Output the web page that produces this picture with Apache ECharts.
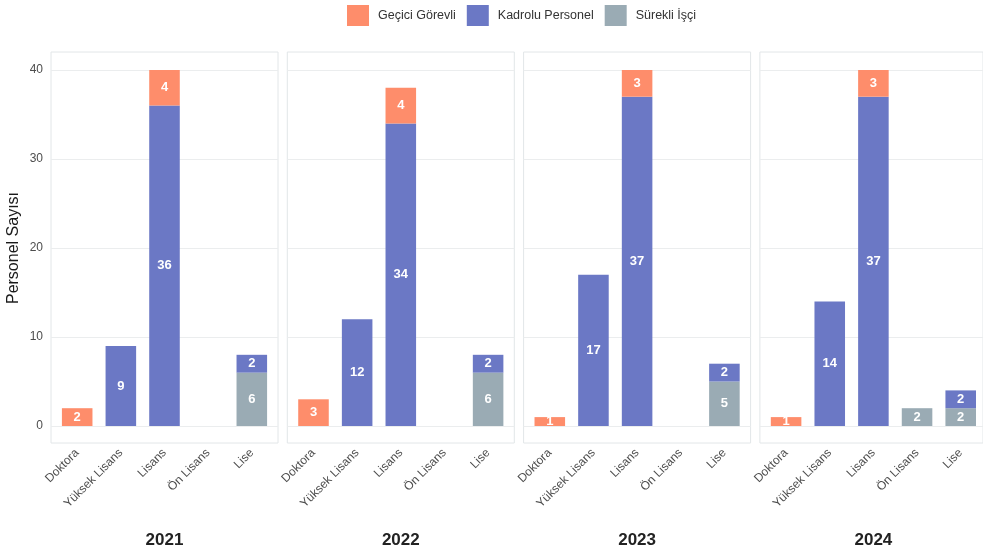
<!DOCTYPE html>
<html>
<head>
<meta charset="utf-8">
<script src="https://cdn.jsdelivr.net/npm/echarts@6/dist/echarts.min.js"></script>
<style>
html,body{margin:0;padding:0;background:#fff;}
#chart{width:983px;height:555px;}
</style>
</head>
<body>
<div id="chart"></div>
<script>
const categories = ['Doktora', 'Yüksek Lisans', 'Lisans', 'Ön Lisans', 'Lise'];
const years = ['2021', '2022', '2023', '2024'];
const seriesNames = ['Geçici Görevli', 'Kadrolu Personel', 'Sürekli İşçi'];
// values per year (rows), per category (columns)
const geciciGorevli = [
  [2, null, 4, null, null],
  [3, null, 4, null, null],
  [1, null, 3, null, null],
  [1, null, 3, null, null]
];
const kadroluPersonel = [
  [null, 9, 36, null, 2],
  [null, 12, 34, null, 2],
  [null, 17, 37, null, 2],
  [null, 14, 37, null, 2]
];
const surekliIsci = [
  [null, null, null, null, 6],
  [null, null, null, null, 6],
  [null, null, null, null, 5],
  [null, null, null, 2, 2]
];

const colors = {
  'Geçici Görevli': '#FE8D6B',
  'Kadrolu Personel': '#6B78C5',
  'Sürekli İşçi': '#9AABB4'
};
const FONT = 'Liberation Sans, Arial, Helvetica, sans-serif';

const panelLeft0 = 51, panelStep = 236.3, panelW = 227;
const panelTop = 52, panelH = 391;
const dataTop = 70, dataH = 356;
const band = panelW / 5.2;          // ggplot discrete expansion (0.6 each side)
const barsInset = 0.1 * band;

const grids = [], xAxes = [], yAxes = [], series = [], graphics = [];

years.forEach((yr, k) => {
  const left = panelLeft0 + k * panelStep;
  const g0 = grids.length;
  // 1) border panel
  grids.push({left: left, top: panelTop, width: panelW, height: panelH, show: true,
    borderColor: '#E2E6E8', borderWidth: 1, backgroundColor: 'transparent'});
  xAxes.push({gridIndex: g0, type: 'value', show: false, min: 0, max: 1});
  yAxes.push({gridIndex: g0, type: 'value', show: false, min: 0, max: 1});
  // 2) horizontal grid lines + y labels, full panel width
  grids.push({left: left, top: dataTop, width: panelW, height: dataH});
  xAxes.push({gridIndex: g0 + 1, type: 'value', show: false, min: 0, max: 1});
  yAxes.push({
    gridIndex: g0 + 1, type: 'value', min: 0, max: 40, interval: 10,
    name: k === 0 ? 'Personel Sayısı' : '',
    nameLocation: 'middle', nameGap: 29,
    nameTextStyle: {fontSize: 16, color: '#1a1a1a', fontFamily: FONT},
    axisLine: {show: false}, axisTick: {show: false},
    axisLabel: {show: k === 0, color: '#4d4d4d', fontSize: 12, fontFamily: FONT, margin: 8},
    splitLine: {show: true, lineStyle: {color: '#EBEDEE', width: 1}}
  });
  // 3) bars
  grids.push({left: left + barsInset, top: dataTop, width: panelW - 2 * barsInset, height: dataH});
  xAxes.push({
    gridIndex: g0 + 2, type: 'category', data: categories,
    axisLine: {show: false}, axisTick: {show: false}, splitLine: {show: false},
    axisLabel: {interval: 0, rotate: 45, margin: 25, color: '#4d4d4d', fontSize: 12, fontFamily: FONT}
  });
  yAxes.push({gridIndex: g0 + 2, type: 'value', min: 0, max: 40, show: false, splitLine: {show: false}});

  const sets = [
    ['Sürekli İşçi', surekliIsci[k]],
    ['Kadrolu Personel', kadroluPersonel[k]],
    ['Geçici Görevli', geciciGorevli[k]]
  ];
  sets.forEach(([name, vals]) => {
    series.push({
      name: name, type: 'bar', stack: 'p' + k,
      xAxisIndex: g0 + 2, yAxisIndex: g0 + 2,
      barWidth: '70%',
      itemStyle: {color: colors[name]},
      label: {show: true, position: 'inside', color: '#fff', fontWeight: 'bold', fontSize: 13,
        fontFamily: FONT},
      data: vals
    });
  });
  graphics.push({
    type: 'text', x: left + panelW / 2, y: 532,
    style: {text: yr, fontSize: 17, fontWeight: 'bold', fill: '#222', fontFamily: FONT, textAlign: 'center'}
  });
});

const chart = echarts.init(document.getElementById('chart'), null, {renderer: 'canvas'});
chart.setOption({
  animation: false,
  backgroundColor: '#fff',
  legend: {
    data: seriesNames, left: 347, top: 5, padding: 0, icon: 'rect',
    itemWidth: 22, itemHeight: 21, itemGap: 11,
    textStyle: {fontSize: 12.5, color: '#333', fontFamily: FONT, padding: [0, 0, 0, 4]}
  },
  grid: grids, xAxis: xAxes, yAxis: yAxes, series: series,
  graphic: graphics
});
</script>
</body>
</html>
